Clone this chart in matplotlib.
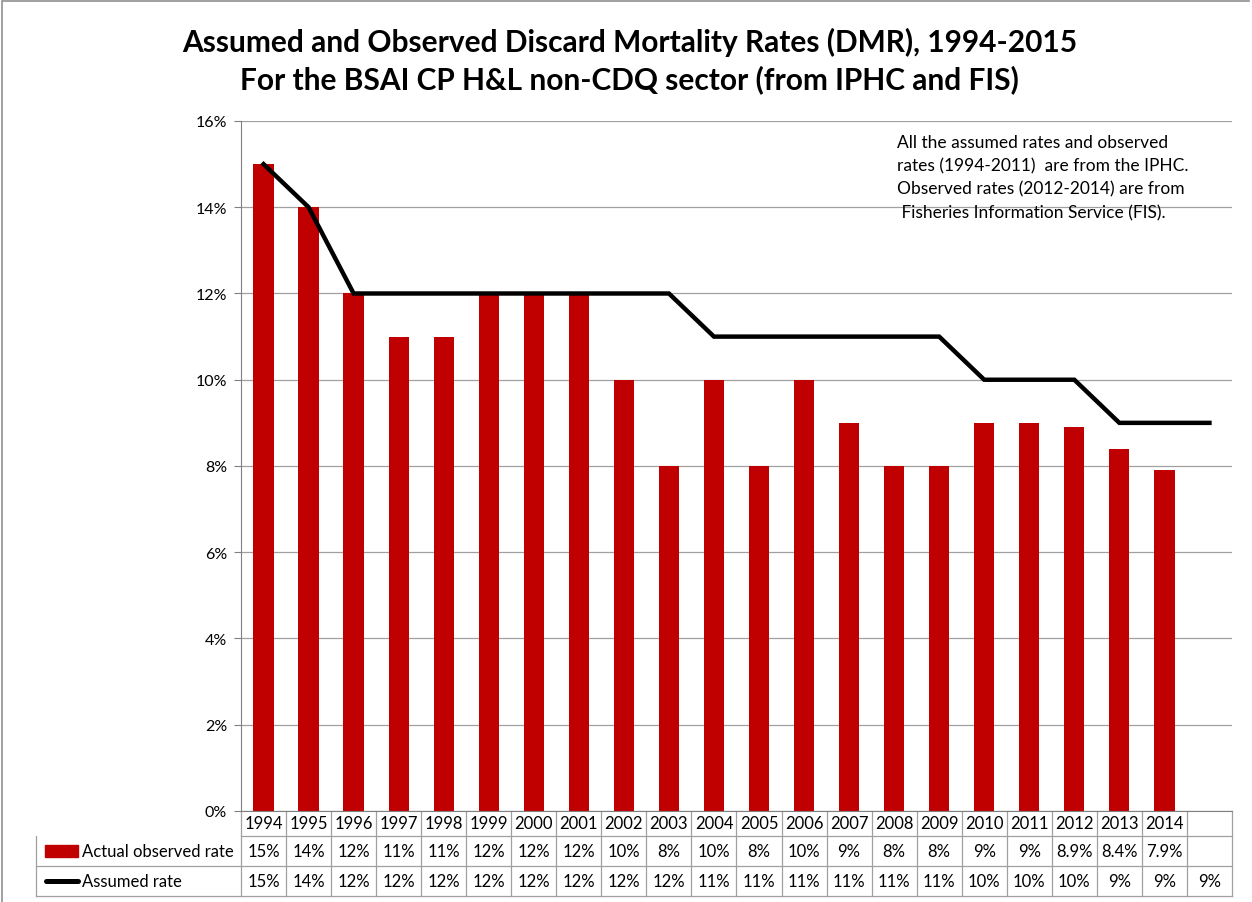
import matplotlib.pyplot as plt
import matplotlib.transforms as mtransforms
import numpy as np

plt.rcParams['font.family'] = ['Lato', 'DejaVu Sans']

# data
years = ['1994', '1995', '1996', '1997', '1998', '1999', '2000', '2001', '2002', '2003', '2004',
         '2005', '2006', '2007', '2008', '2009', '2010', '2011', '2012', '2013', '2014', '']
observed = [15, 14, 12, 11, 11, 12, 12, 12, 10, 8, 10, 8, 10, 9, 8, 8, 9, 9, 8.9, 8.4, 7.9]
observed_lbl = ['15%', '14%', '12%', '11%', '11%', '12%', '12%', '12%', '10%', '8%', '10%',
                '8%', '10%', '9%', '8%', '8%', '9%', '9%', '8.9%', '8.4%', '7.9%', '']
assumed = [15, 14, 12, 12, 12, 12, 12, 12, 12, 12, 11, 11, 11, 11, 11, 11, 10, 10, 10, 9, 9, 9]
assumed_lbl = ['15%', '14%', '12%', '12%', '12%', '12%', '12%', '12%', '12%', '12%', '11%',
               '11%', '11%', '11%', '11%', '11%', '10%', '10%', '10%', '9%', '9%', '9%']

red = '#c00000'
fig = plt.figure(figsize=(12.52, 9.03), dpi=100)
ax = fig.add_axes([0.1925, 0.1008, 0.7915, 0.7641])

x = np.arange(len(years))
ax.bar(x[:len(observed)], observed, width=0.45, color=red, zorder=2)
ax.plot(x, assumed, color='black', lw=3.2, zorder=3, solid_joinstyle='miter')

ax.set_xlim(-0.5, len(years) - 0.5)
ax.set_ylim(0, 16)
ax.set_yticks(range(0, 17, 2))
ax.set_yticklabels([f'{v}%' for v in range(0, 17, 2)], fontsize=11.5)
ax.set_xticks([])
ax.yaxis.grid(True, color='#a0a0a0', lw=0.9, zorder=0)
for s in ['top', 'right']:
    ax.spines[s].set_visible(False)
ax.spines['left'].set_color('#808080')
ax.spines['bottom'].set_color('#808080')
ax.tick_params(axis='y', length=5, color='#808080', pad=5)

fig.text(0.503, 0.953, 'Assumed and Observed Discard Mortality Rates (DMR), 1994-2015',
         fontsize=21.5, fontweight='bold', ha='center', va='center')
fig.text(0.503, 0.912, 'For the BSAI CP H&L non-CDQ sector (from IPHC and FIS)',
         fontsize=21.5, fontweight='bold', ha='center', va='center')

ax.text(0.662, 0.981, 'All the assumed rates and observed\nrates (1994-2011)  are from the IPHC.\n'
        'Observed rates (2012-2014) are from\n Fisheries Information Service (FIS).',
        transform=ax.transAxes, fontsize=12.5, va='top', ha='left', linespacing=1.55)

# data table below the axes
tr = mtransforms.blended_transform_factory(ax.transData, ax.transAxes)
h = ax.get_position().height * 9.03 * 100
r0, r1, r2, r3 = 0, -25 / h, -55 / h, -85 / h
grid_c = '#a0a0a0'
left = -5.05
ax.plot([-0.5, len(years) - 0.5], [r1, r1], transform=tr, color=grid_c, lw=0.9, clip_on=False)
for yy in (r2, r3):
    ax.plot([left, len(years) - 0.5], [yy, yy], transform=tr, color=grid_c, lw=0.9, clip_on=False)
for xx in np.arange(len(years) + 1) - 0.5:
    ax.plot([xx, xx], [r0, r3], transform=tr, color=grid_c, lw=0.9, clip_on=False)
ax.plot([left, left], [r1, r3], transform=tr, color=grid_c, lw=0.9, clip_on=False)
for i in range(len(years)):
    ax.text(i, (r0 + r1) / 2, years[i], transform=tr, ha='center', va='center', fontsize=12)
    ax.text(i, (r1 + r2) / 2, observed_lbl[i], transform=tr, ha='center', va='center', fontsize=12)
    ax.text(i, (r2 + r3) / 2, assumed_lbl[i], transform=tr, ha='center', va='center', fontsize=12)

# legend keys in the table
ax.add_patch(plt.Rectangle((-4.85, (r1 + r2) / 2 - 0.009), 0.73, 0.018, transform=tr,
                           color=red, clip_on=False))
ax.plot([-4.82, -4.12], [(r2 + r3) / 2] * 2, transform=tr, color='black', lw=3.6,
        solid_capstyle='round', clip_on=False)
ax.text(-4.03, (r1 + r2) / 2, 'Actual observed rate', transform=tr, ha='left', va='center', fontsize=12)
ax.text(-4.03, (r2 + r3) / 2, 'Assumed rate', transform=tr, ha='left', va='center', fontsize=12)

# chart border
fig.add_artist(plt.Line2D([0.002, 0.998], [0.9975, 0.9975], color='#909090', lw=1.2))
fig.add_artist(plt.Line2D([0.0015, 0.0015], [0.0, 0.9975], color='#909090', lw=1.2))

fig.savefig('out.png', dpi=100)
